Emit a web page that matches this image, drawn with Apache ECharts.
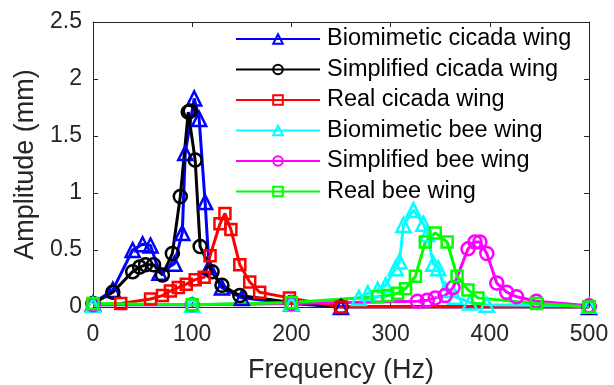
<!DOCTYPE html>
<html>
<head>
<meta charset="utf-8">
<script src="https://cdn.jsdelivr.net/npm/echarts@6/dist/echarts.min.js"></script>
<style>
  html, body { margin: 0; padding: 0; background: #fff; }
  #chart { width: 614px; height: 385px; }
</style>
</head>
<body>
<div id="chart"></div>
<script>
// frequency (Hz) and amplitude (mm) of each curve
const bioCicadaF = [0, 20, 40, 50, 58, 67, 82, 90, 93, 102, 107, 113, 117, 130, 150, 200, 250, 500];
const bioCicadaA = [0.03, 0.15, 0.5, 0.55, 0.54, 0.3, 0.38, 0.65, 1.35, 1.83, 1.65, 0.92, 0.35, 0.17, 0.08, 0.03, 0, 0];

const simCicadaF = [0, 20, 40, 47, 53, 61, 70, 80, 88, 96, 98, 103, 108, 120, 130, 148, 200, 250, 500];
const simCicadaA = [0.03, 0.13, 0.31, 0.35, 0.37, 0.37, 0.28, 0.47, 0.97, 1.71, 1.72, 1.29, 0.53, 0.31, 0.19, 0.1, 0.04, 0, 0];

const realCicadaF = [0, 28, 58, 70, 78, 86, 94, 103, 112, 118, 128, 133, 139, 148, 158, 168, 198, 250, 500];
const realCicadaA = [0.02, 0.03, 0.07, 0.1, 0.14, 0.17, 0.2, 0.24, 0.26, 0.45, 0.73, 0.82, 0.68, 0.37, 0.22, 0.13, 0.08, 0, 0];

const bioBeeF = [0, 100, 200, 268, 277, 287, 295, 305, 309, 313, 323, 333, 337, 343, 348, 355, 365, 380, 397, 500];
const bioBeeA = [0.02, 0.02, 0.03, 0.08, 0.12, 0.15, 0.19, 0.34, 0.4, 0.72, 0.85, 0.73, 0.64, 0.38, 0.34, 0.15, 0.09, 0.04, 0.02, 0.01];

const simBeeF = [0, 100, 200, 327, 337, 345, 355, 363, 378, 385, 390, 397, 407, 417, 427, 447, 500];
const simBeeA = [0.02, 0.02, 0.03, 0.05, 0.06, 0.08, 0.1, 0.17, 0.51, 0.57, 0.57, 0.47, 0.21, 0.13, 0.09, 0.05, 0.01];

const realBeeF = [0, 100, 200, 287, 297, 307, 315, 325, 335, 345, 357, 367, 378, 388, 447, 500];
const realBeeA = [0.03, 0.02, 0.04, 0.09, 0.1, 0.12, 0.16, 0.27, 0.57, 0.65, 0.57, 0.27, 0.15, 0.08, 0.03, 0];

const seriesNames = [
  'Biomimetic cicada wing', 'Simplified cicada wing', 'Real cicada wing',
  'Biomimetic bee wing', 'Simplified bee wing', 'Real bee wing'
];

const FONT = 'Liberation Sans';
const TXT = '#262626';

// one line series, open markers (line shows through) like the matlab plot
function line(name, freq, amp, color, symbol, size) {
  return {
    name: name,
    type: 'line',
    data: freq.map((f, i) => [f, amp[i]]),
    symbol: symbol,
    symbolSize: size,
    showAllSymbol: true,
    color: color,
    lineStyle: { color: color, width: 3 },
    itemStyle: { color: 'rgba(255,255,255,0)', borderColor: color, borderWidth: 2.5 },
    emphasis: { disabled: true },
    animation: false
  };
}

const chart = echarts.init(document.getElementById('chart'));

const tickInside = { inside: true, length: 5, lineStyle: { color: TXT } };
const axisLn = { show: true, onZero: false, lineStyle: { color: TXT, width: 1 } };

chart.setOption({
  backgroundColor: '#fff',
  textStyle: { fontFamily: FONT },
  // keep the plot box fixed, don't let v6 shrink it to fit the labels
  grid: { left: 93, right: 25, top: 22, bottom: 78, outerBoundsMode: 'none' },
  legend: {
    data: seriesNames,
    orient: 'vertical',
    left: 235,
    top: 27,
    padding: 0,
    itemWidth: 84,
    itemHeight: 12,
    itemGap: 6.5,
    textStyle: { fontFamily: FONT, fontSize: 23.5, lineHeight: 24, color: '#000', padding: [0, 0, 0, 2] }
  },
  xAxis: [{
    type: 'value',
    min: 0, max: 500, interval: 100,
    name: 'Frequency (Hz)',
    nameLocation: 'middle',
    nameGap: 50,
    nameTextStyle: { fontFamily: FONT, fontSize: 27, color: TXT },
    axisLine: axisLn,
    axisTick: tickInside,
    axisLabel: { fontFamily: FONT, fontSize: 23, color: TXT, margin: 16 },
    splitLine: { show: false }
  }, {
    type: 'value', position: 'top',
    min: 0, max: 500, interval: 100,
    axisLine: axisLn, axisTick: tickInside,
    axisLabel: { show: false }, splitLine: { show: false }
  }],
  yAxis: [{
    type: 'value',
    min: 0, max: 2.5, interval: 0.5,
    name: 'Amplitude (mm)',
    nameLocation: 'middle',
    nameGap: 52,
    nameTextStyle: { fontFamily: FONT, fontSize: 27, color: TXT },
    axisLine: axisLn,
    axisTick: tickInside,
    axisLabel: { fontFamily: FONT, fontSize: 23, color: TXT, margin: 11 },
    splitLine: { show: false }
  }, {
    type: 'value', position: 'right',
    min: 0, max: 2.5, interval: 0.5,
    axisLine: axisLn, axisTick: tickInside,
    axisLabel: { show: false }, splitLine: { show: false }
  }],
  series: [
    line(seriesNames[0], bioCicadaF, bioCicadaA, '#0000ff', 'triangle', 14),
    line(seriesNames[1], simCicadaF, simCicadaA, '#000000', 'circle', 13),
    line(seriesNames[2], realCicadaF, realCicadaA, '#ff0000', 'rect', 11),
    line(seriesNames[3], bioBeeF, bioBeeA, '#00ffff', 'triangle', 14),
    line(seriesNames[4], simBeeF, simBeeA, '#ff00ff', 'circle', 13),
    line(seriesNames[5], realBeeF, realBeeA, '#00ff00', 'rect', 11)
  ]
});
</script>
</body>
</html>
